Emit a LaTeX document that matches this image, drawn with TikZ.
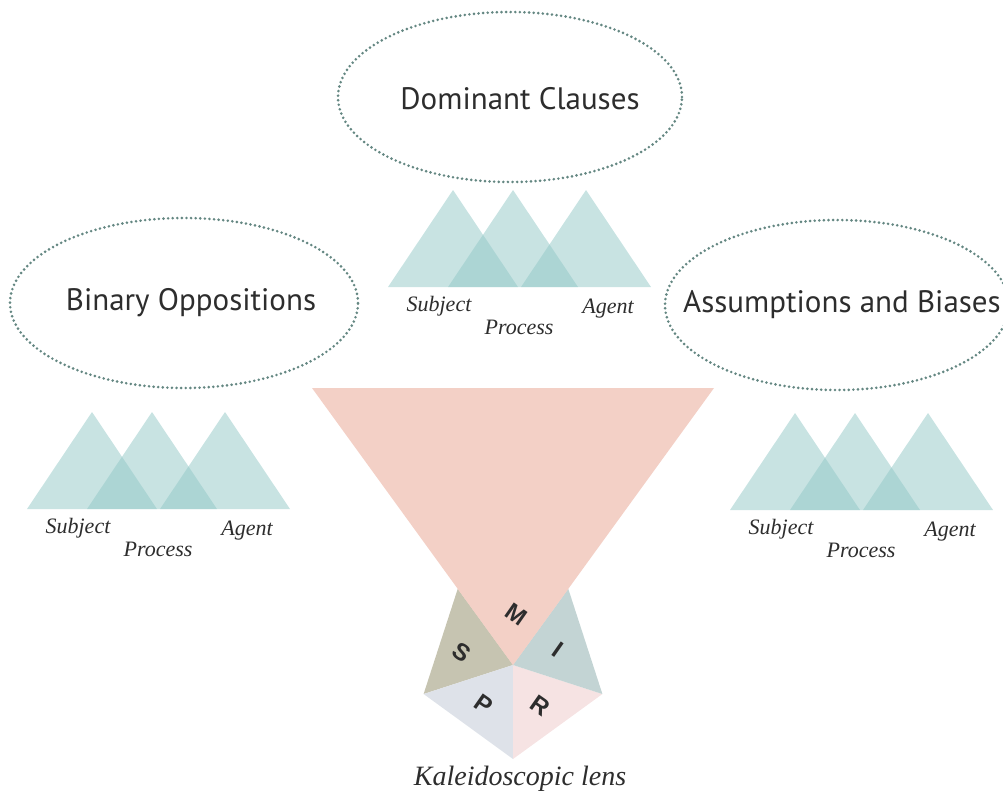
\documentclass[tikz,border=0pt]{standalone}
\usepackage{fontspec}
\setmainfont{Liberation Serif}
\newfontfamily\ovalfont{PT Sans}
\newfontfamily\lensletterfont{Liberation Sans}
\usetikzlibrary{shapes.geometric}

\definecolor{dotc}{RGB}{100,135,130}
\definecolor{peak}{RGB}{145,199,198}
\definecolor{lenspink}{RGB}{243,208,198}
\definecolor{secS}{RGB}{198,196,177}
\definecolor{secI}{RGB}{195,212,212}
\definecolor{secP}{RGB}{222,226,233}
\definecolor{secR}{RGB}{246,227,227}
\definecolor{ink}{RGB}{45,45,45}

\tikzset{
  oval/.style={ellipse, draw=dotc, line width=2.9pt, dash pattern=on 0pt off 4.6pt,
    line cap=round, inner sep=0pt},
  ovaltext/.style={font=\ovalfont\fontsize{31}{36}\selectfont, text=ink, inner sep=0pt},
  peakfill/.style={fill=peak, fill opacity=0.5, draw=none},
  role/.style={font=\itshape\fontsize{22}{26}\selectfont, text=ink, inner sep=0pt},
  lenscaption/.style={font=\itshape\fontsize{28}{32}\selectfont, text=ink, inner sep=0pt},
  lensletter/.style={font=\lensletterfont\bfseries\fontsize{24}{28}\selectfont, text=ink,
    inner sep=0pt, rotate=-35},
  peaks/.pic={
    \fill[peakfill] (0,97) -- (65,0) -- (130,97) -- cycle;
    \fill[peakfill] (60,97) -- (125,0) -- (190,97) -- cycle;
    \fill[peakfill] (133,97) -- (198,0) -- (263,97) -- cycle;
    \node[role] (-subj) at (51,116) {Subject};
    \node[role] (-proc) at (131,137) {Process};
    \node[role] (-agent) at (220,119) {Agent};
  }
}

\begin{document}
\begin{tikzpicture}[x=1pt,y=-1pt]
\useasboundingbox (0,0) rectangle (1003,796);

% dotted ovals and their titles
\node[oval, minimum width=344pt, minimum height=170pt] (dom) at (510,97) {};
\node[ovaltext] (domt) at (520,99) {Dominant Clauses};
\node[oval, minimum width=348pt, minimum height=170pt] (bin) at (184,303) {};
\node[ovaltext] (bint) at (191,303) {Binary Oppositions};
\node[oval, minimum width=344pt, minimum height=170pt] (ass) at (837,305) {};
\node[ovaltext] (asst) at (842,305) {Assumptions and Biases};

% overlapping peaks under each oval
\pic (tg) at (388,190) {peaks};
\pic (lg) at (27,412) {peaks};
\pic (rg) at (730,413) {peaks};

% pentagon lens: centre and vertices
\coordinate (c) at (513,665);
\coordinate (v1) at (568.3,588.9);
\coordinate (v2) at (457.7,588.9);
\coordinate (v3) at (423.6,694.0);
\coordinate (v4) at (513,759);
\coordinate (v5) at (602.4,694.0);

\fill[lenspink] (c) -- (v1) -- (v2) -- cycle;
\fill[secS] (c) -- (v2) -- (v3) -- cycle;
\fill[secP] (c) -- (v3) -- (v4) -- cycle;
\fill[secR] (c) -- (v4) -- (v5) -- cycle;
\fill[secI] (c) -- (v5) -- (v1) -- cycle;

% large inverted triangle feeding the lens
\coordinate (tl) at (312,388);
\coordinate (tr) at (714,388);
\fill[lenspink] (tl) -- (tr) -- (c) -- cycle;

\node[lensletter] (lm) at (516,614) {M};
\node[lensletter] (ls) at (462,652) {S};
\node[lensletter] (li) at (558,650) {I};
\node[lensletter] (lp) at (484,704) {P};
\node[lensletter] (lr) at (540,706) {R};

\node[lenscaption] (lens) at (520,779) {Kaleidoscopic lens};
\end{tikzpicture}
\end{document}
